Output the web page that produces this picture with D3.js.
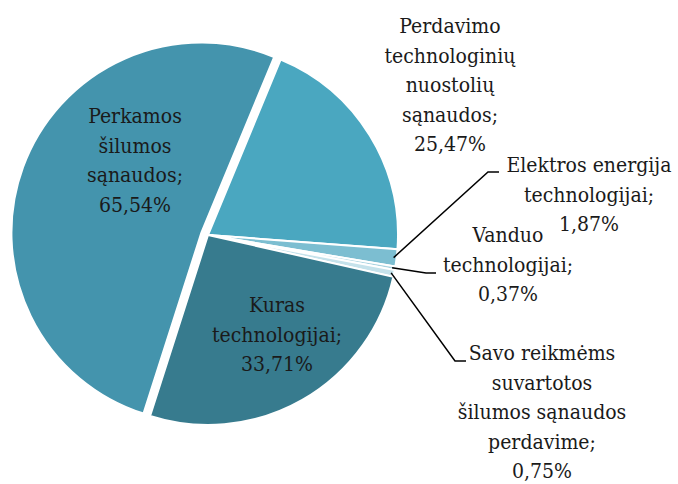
<!DOCTYPE html>
<html>
<head>
<meta charset="utf-8">
<script src="https://cdn.jsdelivr.net/npm/d3@7"></script>
<style>
  body { margin: 0; background: #fff; }
</style>
</head>
<body>
<div id="chart"></div>
<script>
// Data, clockwise from the top slice
const names = [
  "Perdavimo technologinių nuostolių sąnaudos",
  "Elektros energija technologijai",
  "Vanduo technologijai",
  "Savo reikmėms suvartotos šilumos sąnaudos perdavime",
  "Kuras technologijai",
  "Perkamos šilumos sąnaudos"
];
const values = [25.47, 1.87, 0.37, 0.75, 33.71, 65.54];
const valueLabels = ["25,47%", "1,87%", "0,37%", "0,75%", "33,71%", "65,54%"];
const labelLines = [
  ["Perdavimo", "technologinių", "nuostolių", "sąnaudos;"],
  ["Elektros energija", "technologijai;"],
  ["Vanduo", "technologijai;"],
  ["Savo reikmėms", "suvartotos", "šilumos sąnaudos", "perdavime;"],
  ["Kuras", "technologijai;"],
  ["Perkamos", "šilumos", "sąnaudos;"]
];
const colors = ["#4aa7c0", "#7cbed1", "#a9d3e0", "#c5e2eb", "#377b8e", "#4494ad"];

// Layout
const width = 678, height = 484;
const cx = 208, cy = 235, radius = 190;
const explode = [0, 0, 0, 0, 0, 7];
// label block: first baseline position, anchor = middle
const labelPos = [[450, 33], [589, 172], [508, 242], [542, 360], [277, 312], [135, 123]];
// leader lines: elbow point and end of horizontal stub (null = none)
const leaders = [null, [[488, 172], [499, 172]], [[426, 273], [436, 273]], [[455, 361], [466, 361]], null, null];
const lineHeight = 29.5;
const fontFamily = "'DejaVu Serif Condensed', 'DejaVu Serif', serif";

const svg = d3.select("#chart").append("svg")
  .attr("width", width)
  .attr("height", height);

const pie = d3.pie()
  .sort(null)
  .value(d => d)
  .startAngle(22.5 * Math.PI / 180)
  .endAngle(22.5 * Math.PI / 180 + 2 * Math.PI);

const arcs = pie(values);
const arc = d3.arc().innerRadius(0).outerRadius(radius);

const g = svg.append("g").attr("transform", `translate(${cx},${cy})`);

g.selectAll("path.slice")
  .data(arcs)
  .join("path")
  .attr("class", "slice")
  .attr("d", arc)
  .attr("transform", (d, i) => {
    const mid = (d.startAngle + d.endAngle) / 2;
    return `translate(${explode[i] * Math.sin(mid)},${-explode[i] * Math.cos(mid)})`;
  })
  .attr("fill", (d, i) => colors[i])
  .attr("stroke", "#fff")
  .attr("stroke-width", 2);

// Leader lines
arcs.forEach((d, i) => {
  if (!leaders[i]) return;
  const mid = (d.startAngle + d.endAngle) / 2;
  const r0 = radius - 3;
  const start = [cx + r0 * Math.sin(mid), cy - r0 * Math.cos(mid)];
  svg.append("polyline")
    .attr("points", [start, leaders[i][0], leaders[i][1]].map(p => p.join(",")).join(" "))
    .attr("fill", "none")
    .attr("stroke", "#000")
    .attr("stroke-width", 1.5);
});

// Labels
labelLines.forEach((lines, i) => {
  const t = svg.append("text")
    .attr("text-anchor", "middle")
    .attr("font-family", fontFamily)
    .attr("font-size", 21)
    .attr("fill", "#1a1a1a");
  lines.concat([valueLabels[i]]).forEach((s, k) => {
    t.append("tspan")
      .attr("x", labelPos[i][0])
      .attr("y", labelPos[i][1] + k * lineHeight)
      .text(s);
  });
});
</script>
</body>
</html>
